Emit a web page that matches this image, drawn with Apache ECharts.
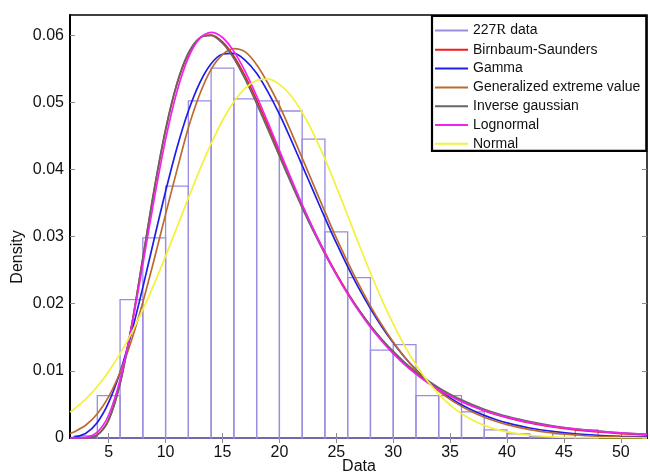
<!DOCTYPE html>
<html>
<head>
<meta charset="utf-8">
<script src="https://cdn.jsdelivr.net/npm/echarts@6/dist/echarts.min.js"></script>
<style>
html,body{margin:0;padding:0;background:#fff;}
#chart{width:650px;height:476px;}
</style>
</head>
<body>
<div id="chart"></div>
<script>
// ---- Data ----
const seriesNames = ['227R data','Birnbaum-Saunders','Gamma','Generalized extreme value','Inverse gaussian','Lognormal','Normal'];
const axisTitles = ['Data', 'Density'];

// histogram: left bin edges, bin width and density heights
const binEdges = [2,4,6,8,10,12,14,16,18,20,22,24,26,28,30,32,34,36,38,40,42,44,46];
const binWidth = 2;
const binDensity = [0.0003,0.0063,0.0206,0.0298,0.0375,0.0502,0.0551,0.0505,0.0502,0.0487,0.0445,0.0307,0.0239,0.0131,0.0139,0.0063,0.0063,0.0039,0.0012,0.0006,0.0002,0.0006,0.0012];

// fitted density curves sampled at xs
const xs = [1.6,2,3,4,5,6,7,8,9,10,11,12,13,14,15,16,17,18,19,20,21,22,23,24,25,26,27,28,29,30,31,32,33,34,35,36,37,38,39,40,42,44,46,48,50,52,52.3];
const birnbaumSaunders = [0,0,0.00002,0.00046,0.00273,0.00816,0.01662,0.02675,0.03691,0.04582,0.05271,0.0572,0.0596,0.06,0.059,0.05685,0.05385,0.05034,0.04646,0.04247,0.0385,0.03467,0.03104,0.02764,0.02451,0.02165,0.01905,0.01672,0.01464,0.01278,0.01114,0.00969,0.00841,0.0073,0.00632,0.00546,0.00472,0.00407,0.00351,0.00303,0.00224,0.00166,0.00122,0.0009,0.00066,0.00048,0.00046];
const gamma = [0.00004,0.00012,0.00072,0.00232,0.0053,0.00979,0.01564,0.02244,0.02968,0.03675,0.04324,0.0487,0.0529,0.05575,0.05716,0.05727,0.05625,0.05431,0.05151,0.04823,0.04451,0.0406,0.0367,0.03279,0.02905,0.02553,0.02224,0.01927,0.01657,0.01417,0.01203,0.01017,0.00856,0.00716,0.00596,0.00494,0.00409,0.00337,0.00276,0.00226,0.00149,0.00098,0.00063,0.0004,0.00026,0.00016,0.00015];
const genExtremeValue = [0.00068,0.00094,0.00193,0.0036,0.00616,0.0098,0.01451,0.02022,0.02662,0.03334,0.0399,0.0462,0.0512,0.0549,0.0571,0.058,0.0575,0.0556,0.0528,0.0495,0.0457,0.0417,0.0377,0.0337,0.0298,0.0262,0.0228,0.01965,0.01683,0.0143,0.01207,0.01012,0.00843,0.00699,0.00575,0.00471,0.00383,0.0031,0.00249,0.00199,0.00125,0.00076,0.00045,0.00026,0.00014,0.00008,0.00007];
const inverseGaussian = [0,0,0.00002,0.00043,0.00265,0.00806,0.0166,0.02684,0.0371,0.046,0.05284,0.05735,0.0596,0.05998,0.05881,0.05653,0.05341,0.0498,0.04592,0.04196,0.03805,0.03428,0.03072,0.0274,0.02434,0.02154,0.01901,0.01673,0.0147,0.01289,0.01128,0.00985,0.0086,0.0075,0.00653,0.00568,0.00494,0.00429,0.00372,0.00323,0.00243,0.00182,0.00137,0.00102,0.00077,0.00057,0.00055];
const lognormal = [0,0,0.0001,0.00087,0.00343,0.00868,0.01648,0.02585,0.0356,0.04448,0.05162,0.05665,0.05952,0.06042,0.05965,0.05758,0.05457,0.05094,0.04696,0.04284,0.03874,0.03478,0.03103,0.02754,0.02434,0.02144,0.01882,0.01648,0.0144,0.01256,0.01094,0.00952,0.00827,0.00719,0.00624,0.00542,0.0047,0.00408,0.00354,0.00307,0.00231,0.00174,0.00132,0.001,0.00076,0.00057,0.00055];
const normal = [0.00386,0.00436,0.00584,0.00767,0.00991,0.01256,0.01563,0.01912,0.02296,0.02709,0.03139,0.03573,0.03994,0.04385,0.04729,0.05009,0.05211,0.05324,0.05344,0.05267,0.051,0.0485,0.04529,0.04155,0.03744,0.03313,0.0288,0.02458,0.02062,0.01698,0.01373,0.01091,0.00852,0.00653,0.00491,0.00363,0.00264,0.00188,0.00132,0.00091,0.00041,0.00017,0.00007,0.00002,0.00001,0,0];

const xTicks = [5,10,15,20,25,30,35,40,45,50];
const yTicks = [0,0.01,0.02,0.03,0.04,0.05,0.06];
const xRange = [1.6, 52.3];
const yRange = [0, 0.063];

// ---- Chart ----
const colors = ['#9a8ce0','#f01a1a','#1e1ee8','#bd6a30','#666666','#f022f0','#f2f23a'];
const FONT = '"Liberation Sans", Arial, sans-serif';

const chart = echarts.init(document.getElementById('chart'), null, {renderer:'canvas'});

const histData = binEdges.map((x0,i)=>[x0, x0+binWidth, binDensity[i]]);
const curves = [birnbaumSaunders, gamma, genExtremeValue, inverseGaussian, lognormal, normal];

const lineSeries = curves.map((arr, k) => ({
  name: seriesNames[k+1],
  type: 'line',
  data: xs.map((x,i)=>[x, arr[i]]),
  smooth: 0.3,
  showSymbol: false,
  symbol: 'none',
  color: colors[k+1],
  lineStyle: {width: 1.7, color: colors[k+1]},
  z: 3 + k,
  animation: false
}));

const tickStyle = {show:true, inside:true, length:5, lineStyle:{color:'#8a8a8a', width:1}};

chart.setOption({
  animation: false,
  backgroundColor: '#fff',
  textStyle: {fontFamily: FONT},
  grid: {left: 70, right: 3, top: 15, bottom: 38, show: true, borderColor: '#000', borderWidth: 1.5, backgroundColor: '#fff',
    containLabel: false, outerBoundsMode: 'none'},
  legend: {
    orient: 'vertical',
    left: 432, top: 16,
    width: 214,
    padding: [7, 6, 0, 3],
    itemGap: 4.8,
    itemWidth: 33, itemHeight: 2,
    icon: 'rect',
    borderColor: '#000', borderWidth: 2.2,
    backgroundColor: '#fff',
    selectedMode: false,
    textStyle: {fontSize: 14, color: '#111', lineHeight: 14, fontFamily: FONT,
      rich: {n:{fontSize:14, color:'#111', fontFamily: FONT}, r:{fontSize:15, color:'#111', fontFamily:'"Liberation Serif", "Times New Roman", serif'}}},
    formatter: function(name){ return name === '227R data' ? '{n|227}{r|R}{n| data}' : name; },
    data: seriesNames.map((n,i)=>({name:n, itemStyle:{color:colors[i]}}))
  },
  xAxis: [{
    type: 'value', min: xRange[0], max: xRange[1],
    axisLine: {show: true, onZero: false, lineStyle: {color: '#000', width: 2}},
    axisTick: Object.assign({customValues: xTicks}, tickStyle),
    axisLabel: {customValues: xTicks, fontSize: 16, color: '#111', margin: 7, fontFamily: FONT},
    splitLine: {show: false}
  }, {
    type: 'value', position: 'top', min: xRange[0], max: xRange[1],
    axisLine: {show: false},
    axisTick: Object.assign({customValues: xTicks}, tickStyle),
    axisLabel: {show: false, customValues: xTicks},
    splitLine: {show: false}
  }],
  yAxis: [{
    type: 'value', min: yRange[0], max: yRange[1],
    axisLine: {show: true, onZero: false, lineStyle: {color: '#000', width: 2}},
    axisTick: Object.assign({customValues: yTicks}, tickStyle),
    axisLabel: {customValues: yTicks, fontSize: 16, color: '#111', margin: 6, fontFamily: FONT,
      formatter: v => v === 0 ? '0' : v.toFixed(2)},
    splitLine: {show: false}
  }, {
    type: 'value', position: 'right', min: yRange[0], max: yRange[1],
    axisLine: {show: false},
    axisTick: Object.assign({customValues: yTicks}, tickStyle),
    axisLabel: {show: false, customValues: yTicks},
    splitLine: {show: false}
  }],
  graphic: [{
    type: 'text', x: 359, y: 467,
    style: {text: axisTitles[0], fontSize: 16, fill: '#111', fontFamily: FONT, align: 'center', verticalAlign: 'middle'}
  }, {
    type: 'text', x: 18, y: 257, rotation: Math.PI/2,
    style: {text: axisTitles[1], fontSize: 16, fill: '#111', fontFamily: FONT, align: 'center', verticalAlign: 'middle'}
  }],
  series: [{
    name: seriesNames[0],
    type: 'custom',
    itemStyle: {color: colors[0]},
    data: histData,
    encode: {x: [0,1], y: 2},
    z: 2,
    renderItem: function(params, api){
      const p0 = api.coord([api.value(0), api.value(2)]);
      const p1 = api.coord([api.value(1), 0]);
      return {
        type: 'rect',
        shape: {x: p0[0], y: p0[1], width: p1[0]-p0[0], height: p1[1]-p0[1]},
        style: {fill: 'none', stroke: colors[0], lineWidth: 1.3}
      };
    }
  }].concat(lineSeries)
});
</script>
</body>
</html>
